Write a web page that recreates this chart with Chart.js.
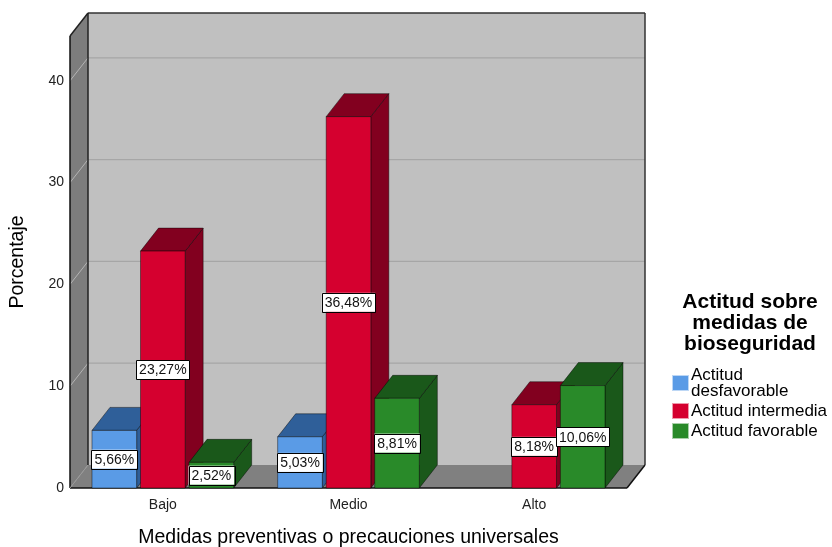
<!DOCTYPE html>
<html>
<head>
<meta charset="utf-8">
<script src="https://cdn.jsdelivr.net/npm/chart.js@4.4.0/dist/chart.umd.min.js"></script>
<style>
  html, body { margin: 0; padding: 0; background: #fff; }
</style>
</head>
<body>
<canvas id="grafico" width="832" height="547"></canvas>
<script>
// --- Datos (porcentajes) ---
const categorias = ['Bajo', 'Medio', 'Alto'];
const desfavorable = [5.66, 5.03, null];
const intermedia = [23.27, 36.48, 8.18];
const favorable = [2.52, 8.81, 10.06];
const nombresSeries = [['Actitud', 'desfavorable'], ['Actitud intermedia'], ['Actitud favorable']];
const tituloLeyenda = ['Actitud sobre', 'medidas de', 'bioseguridad'];
const ticksY = [0, 10, 20, 30, 40];

// colores: cara frontal / cara superior y lateral
const frente = ['#5a9be6', '#d5002f', '#298a29'];
const sombra = ['#2f5f99', '#82001f', '#1a581a'];

const fuente = "'Liberation Sans', Arial, Helvetica, sans-serif";
const DX = 18, DY = -23; // profundidad del efecto 3D

function poligono(ctx, pts, relleno, borde, grosor) {
  ctx.beginPath();
  ctx.moveTo(pts[0][0], pts[0][1]);
  for (let i = 1; i < pts.length; i++) ctx.lineTo(pts[i][0], pts[i][1]);
  ctx.closePath();
  if (relleno) { ctx.fillStyle = relleno; ctx.fill(); }
  if (borde) { ctx.strokeStyle = borde; ctx.lineWidth = grosor || 1; ctx.stroke(); }
}

function linea(ctx, x1, y1, x2, y2, color, grosor) {
  ctx.beginPath();
  ctx.moveTo(x1, y1);
  ctx.lineTo(x2, y2);
  ctx.strokeStyle = color;
  ctx.lineWidth = grosor || 1;
  ctx.stroke();
}

// --- Paredes, piso y cuadr칤cula ---
const fondo3d = {
  id: 'fondo3d',
  beforeDraw(chart) {
    const { ctx, chartArea: a, scales: { y } } = chart;
    ctx.save();
    // pared del fondo
    ctx.fillStyle = '#c0c0c0';
    ctx.fillRect(a.left + DX, a.top + DY, a.right - a.left, a.bottom - a.top);
    ticksY.forEach(v => {
      if (v === 0) return;
      const py = y.getPixelForValue(v) + DY;
      linea(ctx, a.left + DX, py, a.right + DX, py, '#a6a6a6', 1.2);
    });
    // pared izquierda
    poligono(ctx, [[a.left, a.top], [a.left + DX, a.top + DY], [a.left + DX, a.bottom + DY], [a.left, a.bottom]], '#7d7d7d');
    ticksY.forEach(v => {
      if (v === 0) return;
      const py = y.getPixelForValue(v);
      linea(ctx, a.left, py, a.left + DX, py + DY, '#b4b4b4', 1);
    });
    // piso
    poligono(ctx, [[a.left, a.bottom], [a.left + DX, a.bottom + DY], [a.right + DX, a.bottom + DY], [a.right, a.bottom]], '#808080');
    // bordes
    ctx.lineJoin = 'round';
    linea(ctx, a.left + DX, a.top + DY, a.right + DX, a.top + DY, '#333', 1.5);
    linea(ctx, a.right + DX, a.top + DY, a.right + DX, a.bottom + DY, '#333', 1.5);
    linea(ctx, a.left + DX, a.top + DY, a.left + DX, a.bottom + DY, '#222', 1.5);
    linea(ctx, a.left, a.top, a.left + DX, a.top + DY, '#222', 1.5);
    linea(ctx, a.left, a.top, a.left, a.bottom, '#111', 1.5);
    linea(ctx, a.left, a.bottom, a.right, a.bottom, '#111', 1.5);
    linea(ctx, a.right, a.bottom, a.right + DX, a.bottom + DY, '#111', 1.5);
    linea(ctx, a.left, a.bottom, a.left + DX, a.bottom + DY, '#999', 1);
    ctx.restore();
  },

  // --- Barras 3D y etiquetas ---
  beforeDatasetsDraw(chart) {
    const { ctx } = chart;
    const metas = chart.data.datasets.map((d, i) => chart.getDatasetMeta(i));
    ctx.save();
    ctx.lineJoin = 'round';
    const etiquetas = [];
    categorias.forEach((c, i) => {
      metas.forEach((meta, d) => {
        const valor = chart.data.datasets[d].data[i];
        if (valor === null || valor === undefined) return;
        const { x, y, base, width } = meta.data[i].getProps(['x', 'y', 'base', 'width'], true);
        const x0 = x - width / 2, x1 = x + width / 2;
        const borde = 'rgba(0,0,0,0.55)';
        // cara lateral
        poligono(ctx, [[x1, y], [x1 + DX, y + DY], [x1 + DX, base + DY], [x1, base]], sombra[d], borde, 0.8);
        // cara superior
        poligono(ctx, [[x0, y], [x0 + DX, y + DY], [x1 + DX, y + DY], [x1, y]], sombra[d], borde, 0.8);
        // cara frontal
        poligono(ctx, [[x0, y], [x1, y], [x1, base], [x0, base]], frente[d], borde, 0.8);
        etiquetas.push({ x, y: (y + base) / 2, texto: valor.toFixed(2).replace('.', ',') + '%' });
      });
    });
    ctx.font = '14px ' + fuente;
    ctx.textAlign = 'center';
    ctx.textBaseline = 'middle';
    etiquetas.forEach(e => {
      const w = ctx.measureText(e.texto).width + 6;
      const h = 19;
      ctx.fillStyle = '#fff';
      ctx.fillRect(e.x - w / 2, e.y - h / 2, w, h);
      ctx.strokeStyle = '#000';
      ctx.lineWidth = 1;
      ctx.strokeRect(Math.round(e.x - w / 2) + 0.5, Math.round(e.y - h / 2) + 0.5, Math.round(w), h);
      ctx.fillStyle = '#111';
      ctx.fillText(e.texto, e.x, e.y + 1);
    });
    ctx.restore();
    return false;
  },

  // --- Leyenda ---
  afterDraw(chart) {
    const { ctx } = chart;
    ctx.save();
    ctx.fillStyle = '#000';
    ctx.textAlign = 'center';
    ctx.textBaseline = 'middle';
    ctx.font = 'bold 21px ' + fuente;
    tituloLeyenda.forEach((t, i) => ctx.fillText(t, 750, 302 + i * 21));
    ctx.textAlign = 'left';
    ctx.font = '17px ' + fuente;
    let yy = 375;
    nombresSeries.forEach((lineas, d) => {
      const alto = (lineas.length - 1) * 16;
      ctx.fillStyle = frente[d];
      ctx.fillRect(672, yy + alto / 2 - 8, 17, 16);
      ctx.strokeStyle = 'rgba(255,255,255,0.6)';
      ctx.lineWidth = 1;
      ctx.strokeRect(672.5, yy + alto / 2 - 7.5, 16, 15);
      ctx.fillStyle = '#000';
      lineas.forEach((l, k) => ctx.fillText(l, 691, yy + k * 16));
      yy += alto + 20;
    });
    ctx.restore();
  }
};

new Chart(document.getElementById('grafico'), {
  type: 'bar',
  data: {
    labels: categorias,
    datasets: [
      { label: nombresSeries[0].join(' '), data: desfavorable, backgroundColor: frente[0] },
      { label: nombresSeries[1].join(' '), data: intermedia, backgroundColor: frente[1] },
      { label: nombresSeries[2].join(' '), data: favorable, backgroundColor: frente[2] }
    ]
  },
  options: {
    responsive: false,
    animation: false,
    layout: { padding: { left: 0, right: 205, top: 36, bottom: 0 } },
    datasets: { bar: { categoryPercentage: 0.784, barPercentage: 0.92 } },
    plugins: {
      legend: { display: false },
      tooltip: { enabled: false }
    },
    scales: {
      x: {
        grid: { display: false },
        border: { display: false },
        ticks: { color: '#222', font: { family: fuente, size: 14 }, padding: 1 },
        title: {
          display: true,
          text: 'Medidas preventivas o precauciones universales',
          color: '#000',
          font: { family: fuente, size: 19.5, lineHeight: 1 },
          padding: { top: 0, bottom: 0 }
        },
        afterFit: s => { s.height = 59; }
      },
      y: {
        min: 0,
        max: 44.4,
        grid: { display: false, drawTicks: false },
        border: { display: false },
        ticks: { stepSize: 10, color: '#222', font: { family: fuente, size: 14 }, padding: 6 },
        afterBuildTicks: s => { s.ticks = s.ticks.filter(t => ticksY.includes(t.value)); },
        title: {
          display: true,
          text: 'Porcentaje',
          color: '#000',
          font: { family: fuente, size: 19.5, lineHeight: 1 },
          padding: { top: 8, bottom: 0 }
        },
        afterFit: s => { s.width = 70; }
      }
    }
  },
  plugins: [fondo3d]
});
</script>
</body>
</html>
